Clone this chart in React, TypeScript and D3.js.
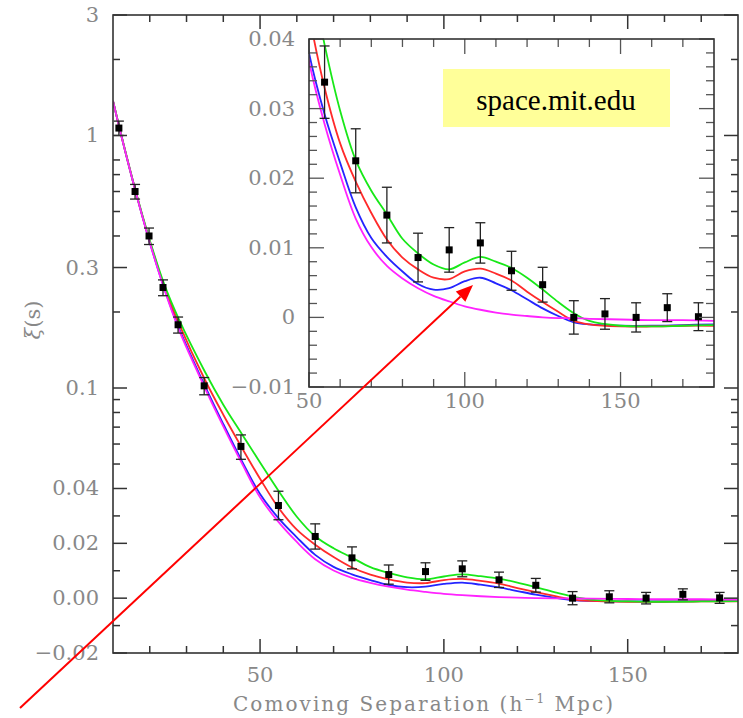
import React from "react";
import * as d3 from "d3";

// ---------- data ----------
const curveX = [10, 12, 16, 20, 24, 28, 35, 40, 45, 50, 55, 60, 65, 70, 75, 80, 85, 90, 95, 100, 105, 110, 115, 120, 125, 130, 135, 140, 150, 160, 170, 180];
const greenModel = [1.37, 1.04, 0.615, 0.385, 0.256, 0.186, 0.116, 0.0859, 0.0659, 0.0507, 0.0392, 0.0297, 0.0226, 0.0182, 0.0148, 0.0113, 0.0092, 0.0076, 0.0069, 0.0079, 0.0087, 0.0080, 0.0071, 0.0057, 0.0040, 0.0022, 0.0006, -0.0005, -0.0012, -0.0013, -0.0012, -0.0011];
const redModel = [1.37, 1.037, 0.613, 0.381, 0.251, 0.179, 0.1078, 0.0784, 0.0582, 0.0437, 0.0330, 0.0250, 0.0195, 0.0150, 0.0112, 0.0086, 0.0069, 0.0057, 0.0055, 0.0066, 0.0070, 0.0063, 0.0053, 0.0037, 0.0022, 0.0008, -0.0005, -0.0010, -0.0013, -0.0013, -0.0012, -0.0012];
const blueModel = [1.37, 1.035, 0.611, 0.378, 0.247, 0.172, 0.102, 0.072, 0.0516, 0.0380, 0.0292, 0.0222, 0.0158, 0.0114, 0.0087, 0.0066, 0.0048, 0.0040, 0.0042, 0.0052, 0.0057, 0.0049, 0.0039, 0.0026, 0.0013, 0.0002, -0.0007, -0.0010, -0.0012, -0.0012, -0.0011, -0.0010];
const magentaModel = [1.37, 1.034, 0.611, 0.377, 0.245, 0.169, 0.100, 0.0705, 0.0505, 0.0368, 0.0278, 0.0205, 0.0142, 0.0101, 0.0074, 0.0056, 0.0042, 0.0031, 0.0023, 0.0016, 0.0011, 0.0007, 0.0004, 0.0002, 0.0000, -0.0001, -0.0001, -0.0002, -0.0003, -0.0004, -0.0004, -0.0005];

const dataX = [11.6, 16.0, 19.8, 23.6, 27.7, 34.8, 44.8, 55, 65, 75, 85, 95, 105, 115, 125, 135, 145, 155, 165, 175];
const dataY = [1.07, 0.60, 0.40, 0.25, 0.178, 0.102, 0.0587, 0.0338, 0.0225, 0.0147, 0.0086, 0.0097, 0.0107, 0.0067, 0.0047, 0.0000, 0.0005, 0.0000, 0.0014, 0.0001];
const dataErr = [0.07, 0.04, 0.03, 0.018, 0.013, 0.008, 0.0065, 0.0052, 0.0046, 0.0040, 0.0035, 0.0032, 0.0029, 0.0028, 0.0025, 0.0024, 0.0022, 0.0021, 0.0020, 0.0020];

const mainXMajor = [50, 100, 150];
const mainXMinor = [20, 30, 40, 60, 70, 80, 90, 110, 120, 130, 140, 160, 170];
const mainYMajor = [3, 1, 0.3, 0.1, 0.04, 0.02, 0, -0.02];
const mainYLabels = ["3", "1", "0.3", "0.1", "0.04", "0.02", "0.00", "\u22120.02"];
const mainYMinor = [2, 0.8, 0.7, 0.6, 0.5, 0.4, 0.2, 0.09, 0.08, 0.07, 0.06, 0.05, 0.03, 0.01, -0.01];

const insetXMajor = [50, 100, 150];
const insetXMinor = [60, 70, 80, 90, 110, 120, 130, 140, 160, 170];
const insetYMajor = [0.04, 0.03, 0.02, 0.01, 0, -0.01];
const insetYLabels = ["0.04", "0.03", "0.02", "0.01", "0", "\u22120.01"];
const insetYMinor = [0.038, 0.036, 0.034, 0.032, 0.028, 0.026, 0.024, 0.022, 0.018, 0.016, 0.014, 0.012, 0.008, 0.006, 0.004, 0.002, -0.002, -0.004, -0.006, -0.008];

const models = [
  { name: "blue", values: blueModel, color: "#2424ff" },
  { name: "red", values: redModel, color: "#ff2a2a" },
  { name: "green", values: greenModel, color: "#18e818" },
  { name: "magenta", values: magentaModel, color: "#ff22ff" },
];

// ---------- scales ----------
const W = 743, H = 718;
const M = { l: 113, r: 738, t: 15, b: 653 };
const I = { l: 309, r: 714, t: 39, b: 387 };

const hybrid = (v: number) => (v <= 0.04 ? v : 0.04 + 0.04 * Math.log(v / 0.04));
const xMain = d3.scaleLinear().domain([10, 180]).range([M.l, M.r]);
const yLin = d3.scaleLinear().domain([hybrid(-0.02), hybrid(3)]).range([M.b, M.t]);
const yMain = (v: number) => yLin(hybrid(v));

const xIn = d3.scaleLinear().domain([50, 180]).range([I.l, I.r]);
const yIn = d3.scaleLinear().domain([-0.01, 0.04]).range([I.b, I.t]);

const TICK_FONT = "'DejaVu Serif', serif";
const LABEL_COLOR = "#888";
const AXIS_COLOR = "#333";

function Arrow() {
  const x1 = 20, y1 = 708, x2 = 473, y2 = 285;
  const ang = Math.atan2(y2 - y1, x2 - x1);
  const len = 17, half = 7;
  const bx = x2 - len * Math.cos(ang), by = y2 - len * Math.sin(ang);
  const px = -Math.sin(ang), py = Math.cos(ang);
  const pts = [
    [x2, y2],
    [bx + half * px, by + half * py],
    [bx - half * px, by - half * py],
  ];
  return (
    <g>
      <line x1={x1} y1={y1} x2={bx} y2={by} stroke="#ff0000" strokeWidth={2} />
      <polygon points={pts.map((p) => p.join(",")).join(" ")} fill="#ff0000" />
    </g>
  );
}

export default function App() {
  const mainLine = (vals: number[]) =>
    d3
      .line<number>()
      .x((_, i) => xMain(curveX[i]))
      .y((d) => yMain(d))
      .curve(d3.curveCatmullRom.alpha(0.5))(vals) as string;
  const insetLine = (vals: number[]) =>
    d3
      .line<number>()
      .x((_, i) => xIn(curveX[i]))
      .y((d) => yIn(d))
      .curve(d3.curveCatmullRom.alpha(0.5))(vals) as string;

  const majL = 14, minL = 7;
  const iMajL = 15, iMinL = 8;

  return (
    <svg width={W} height={H} style={{ position: "absolute", left: 0, top: 0, background: "#fff" }}>
      <defs>
        <clipPath id="clipMain">
          <rect x={M.l} y={M.t} width={M.r - M.l} height={M.b - M.t} />
        </clipPath>
        <clipPath id="clipInset">
          <rect x={I.l} y={I.t} width={I.r - I.l} height={I.b - I.t} />
        </clipPath>
      </defs>
      <rect x={0} y={0} width={W} height={H} fill="#fff" />

      {/* ---------- main plot ---------- */}
      <g clipPath="url(#clipMain)">
        {models.map((m) => (
          <path key={m.name} d={mainLine(m.values)} fill="none" stroke={m.color} strokeWidth={1.8} />
        ))}
        {dataX.map((x, i) => {
          const cx = xMain(x);
          const yt = yMain(dataY[i] + dataErr[i]);
          const yb = yMain(dataY[i] - dataErr[i]);
          return (
            <g key={i}>
              <line x1={cx} x2={cx} y1={yt} y2={yb} stroke="#222" strokeWidth={1.3} />
              <line x1={cx - 5} x2={cx + 5} y1={yt} y2={yt} stroke="#222" strokeWidth={1.3} />
              <line x1={cx - 5} x2={cx + 5} y1={yb} y2={yb} stroke="#222" strokeWidth={1.3} />
              <rect x={cx - 3.5} y={yMain(dataY[i]) - 3.5} width={7} height={7} fill="#000" />
            </g>
          );
        })}
      </g>

      {/* main ticks */}
      <g stroke={AXIS_COLOR} strokeWidth={1.5}>
        {mainXMajor.map((v) => (
          <g key={"xM" + v}>
            <line x1={xMain(v)} x2={xMain(v)} y1={M.b} y2={M.b - majL} />
            <line x1={xMain(v)} x2={xMain(v)} y1={M.t} y2={M.t + majL} />
          </g>
        ))}
        {mainXMinor.map((v) => (
          <g key={"xm" + v}>
            <line x1={xMain(v)} x2={xMain(v)} y1={M.b} y2={M.b - minL} />
            <line x1={xMain(v)} x2={xMain(v)} y1={M.t} y2={M.t + minL} />
          </g>
        ))}
        {mainYMajor.map((v) => (
          <g key={"yM" + v}>
            <line x1={M.l} x2={M.l + majL} y1={yMain(v)} y2={yMain(v)} />
            <line x1={M.r} x2={M.r - majL} y1={yMain(v)} y2={yMain(v)} />
          </g>
        ))}
        {mainYMinor.map((v) => (
          <g key={"ym" + v}>
            <line x1={M.l} x2={M.l + minL} y1={yMain(v)} y2={yMain(v)} />
            <line x1={M.r} x2={M.r - minL} y1={yMain(v)} y2={yMain(v)} />
          </g>
        ))}
      </g>
      <rect x={M.l} y={M.t} width={M.r - M.l} height={M.b - M.t} fill="none" stroke={AXIS_COLOR} strokeWidth={1.6} />

      {/* main tick labels */}
      <g fontFamily={TICK_FONT} fontSize={21} fill={LABEL_COLOR}>
        {mainXMajor.map((v) => (
          <text key={"xl" + v} x={xMain(v)} y={682} textAnchor="middle">
            {v}
          </text>
        ))}
        {mainYMajor.map((v, i) => (
          <text key={"yl" + v} x={99} y={yMain(v)} textAnchor="end" dominantBaseline="central">
            {mainYLabels[i]}
          </text>
        ))}
      </g>
      <text
        x={233}
        y={711}
        fontFamily={TICK_FONT}
        fontSize={20}
        fill={LABEL_COLOR}
        textLength={380}
        lengthAdjust="spacing"
      >
        Comoving Separation (h<tspan dy={-8} fontSize={12}>{"\u22121"}</tspan>
        <tspan dy={8}> Mpc)</tspan>
      </text>
      <text
        transform={`translate(40,${320}) rotate(-90)`}
        fontFamily={TICK_FONT}
        fontSize={21}
        fill={LABEL_COLOR}
        textAnchor="middle"
      >
        <tspan fontStyle="italic">ξ</tspan>(s)
      </text>

      {/* ---------- inset ---------- */}
      <rect x={244} y={I.t - 6} width={I.r - 244 + 4} height={I.b - I.t + 32} fill="#fff" />
      <g clipPath="url(#clipInset)">
        {models.map((m) => (
          <path key={"i" + m.name} d={insetLine(m.values)} fill="none" stroke={m.color} strokeWidth={1.8} />
        ))}
        {dataX.map((x, i) => {
          if (x < 50) return null;
          const cx = xIn(x);
          const yt = yIn(dataY[i] + dataErr[i]);
          const yb = yIn(dataY[i] - dataErr[i]);
          return (
            <g key={"ip" + i}>
              <line x1={cx} x2={cx} y1={yt} y2={yb} stroke="#222" strokeWidth={1.3} />
              <line x1={cx - 5} x2={cx + 5} y1={yt} y2={yt} stroke="#222" strokeWidth={1.3} />
              <line x1={cx - 5} x2={cx + 5} y1={yb} y2={yb} stroke="#222" strokeWidth={1.3} />
              <rect x={cx - 3.5} y={yIn(dataY[i]) - 3.5} width={7} height={7} fill="#000" />
            </g>
          );
        })}
      </g>
      <g stroke="#555" strokeWidth={1.3}>
        {insetXMajor.map((v) => (
          <g key={"ixM" + v}>
            <line x1={xIn(v)} x2={xIn(v)} y1={I.b} y2={I.b - iMajL} />
            <line x1={xIn(v)} x2={xIn(v)} y1={I.t} y2={I.t + iMajL} />
          </g>
        ))}
        {insetXMinor.map((v) => (
          <g key={"ixm" + v}>
            <line x1={xIn(v)} x2={xIn(v)} y1={I.b} y2={I.b - iMinL} />
            <line x1={xIn(v)} x2={xIn(v)} y1={I.t} y2={I.t + iMinL} />
          </g>
        ))}
        {insetYMajor.map((v) => (
          <g key={"iyM" + v}>
            <line x1={I.l} x2={I.l + iMajL} y1={yIn(v)} y2={yIn(v)} />
            <line x1={I.r} x2={I.r - iMajL} y1={yIn(v)} y2={yIn(v)} />
          </g>
        ))}
        {insetYMinor.map((v) => (
          <g key={"iym" + v}>
            <line x1={I.l} x2={I.l + iMinL} y1={yIn(v)} y2={yIn(v)} />
            <line x1={I.r} x2={I.r - iMinL} y1={yIn(v)} y2={yIn(v)} />
          </g>
        ))}
      </g>
      <rect x={I.l} y={I.t} width={I.r - I.l} height={I.b - I.t} fill="none" stroke={AXIS_COLOR} strokeWidth={1.6} />
      <g fontFamily={TICK_FONT} fontSize={21} fill={LABEL_COLOR}>
        {insetXMajor.map((v) => (
          <text key={"ixl" + v} x={xIn(v)} y={408} textAnchor="middle">
            {v}
          </text>
        ))}
        {insetYMajor.map((v, i) => (
          <text key={"iyl" + v} x={295} y={yIn(v)} textAnchor="end" dominantBaseline="central">
            {insetYLabels[i]}
          </text>
        ))}
      </g>

      {/* source box */}
      <rect x={443} y={69} width={227} height={58} fill="#ffff99" />
      <text x={556} y={110} textAnchor="middle" fontFamily="'Liberation Serif', 'Times New Roman', serif" fontSize={29} fill="#000">
        space.mit.edu
      </text>

      <Arrow />
    </svg>
  );
}
